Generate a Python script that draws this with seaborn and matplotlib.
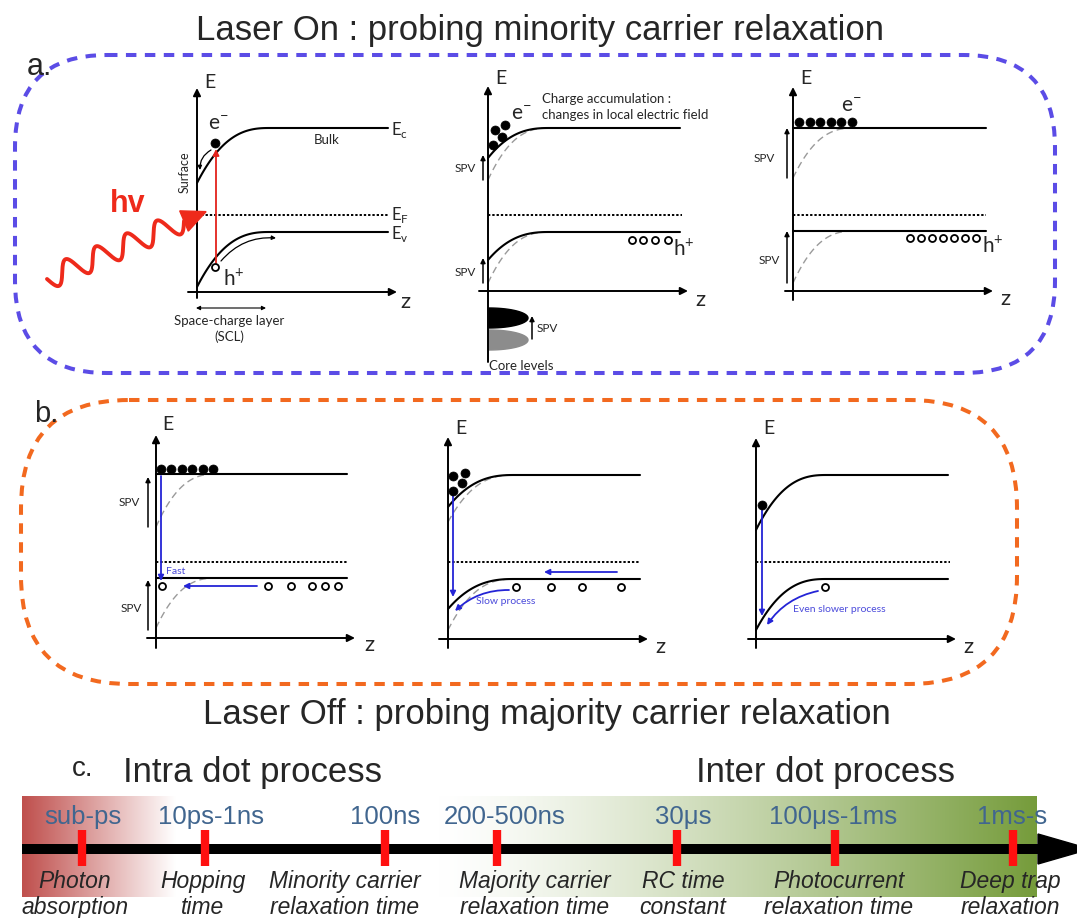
import numpy as np
import matplotlib
matplotlib.use("Agg")
import matplotlib.pyplot as plt
from matplotlib.patches import FancyBboxPatch, Polygon
import seaborn as sns

# ---- timeline content -------------------------------------------------------
time_scales = ["sub-ps", "10ps-1ns", "100ns", "200-500ns", "30μs", "100μs-1ms", "1ms-s"]
processes = [
    ("Photon", "absorption"),
    ("Hopping", "time"),
    ("Minority carrier", "relaxation time"),
    ("Majority carrier", "relaxation time"),
    ("RC time", "constant"),
    ("Photocurrent", "relaxation time"),
    ("Deep trap", "relaxation"),
]
marker_x = [82, 205, 385, 497, 677, 835, 1013]
scale_x = [83, 211, 385, 505, 683, 833, 1012]
process_x = [75, 203, 345, 535, 683, 839, 1010]

titles = ["Laser On : probing minority carrier relaxation",
          "Laser Off : probing majority carrier relaxation"]
groups = ["Intra dot process", "Inter dot process"]

# ---- styling ----------------------------------------------------------------
sns.set_theme(style="white")
plt.rcParams["font.family"] = ["Liberation Sans", "DejaVu Sans"]
GS = ["Lato", "DejaVu Sans"]
BLUE_BOX = "#5B4CE6"
ORANGE_BOX = "#F2691F"
ARROW_BLUE = "#2424D6"
TEXT_BLUE = "#4B4BDB"
GREY = "#9A9A9A"

fig = plt.figure(figsize=(10.77, 9.18), dpi=100)
ax = fig.add_axes([0, 0, 1, 1])
ax.set_xlim(0, 1077)
ax.set_ylim(918, 0)
ax.axis("off")


def arrow(x0, y0, x1, y1, color="black", lw=1.3, ms=10, rad=0.0, style="-|>", z=4):
    ax.annotate("", xy=(x1, y1), xytext=(x0, y0),
                arrowprops=dict(arrowstyle=style, color=color, lw=lw, mutation_scale=ms,
                                shrinkA=0, shrinkB=0,
                                connectionstyle=f"arc3,rad={rad}"), zorder=z)


def band(x0, y_surf, y_bulk, length, x_end=None, color="black", lw=1.5, dashed=False):
    t = np.linspace(0, 1, 80)
    xs = x0 + length * t
    ys = y_bulk + (y_surf - y_bulk) * (1 - t) ** 2.6
    if x_end is not None:
        xs = np.append(xs, x_end)
        ys = np.append(ys, y_bulk)
    if dashed:
        ax.plot(xs, ys, color=GREY, lw=1.0, ls=(0, (5, 3)), zorder=2)
    else:
        sns.lineplot(x=xs, y=ys, sort=False, estimator=None, color=color, lw=lw, ax=ax, zorder=3)


def flat(x0, x1, y, dotted=False):
    if dotted:
        ax.plot([x0, x1], [y, y], color="black", lw=1.4, ls=(0, (1.2, 1.0)), zorder=3)
    else:
        sns.lineplot(x=[x0, x1], y=[y, y], color="black", lw=1.5, ax=ax, zorder=3)


def axes_frame(x0, ytop, ybot, y0, xl, xr, elab, zlab):
    arrow(x0, ybot, x0, ytop, lw=1.4, ms=11)
    arrow(xl, y0, xr, y0, lw=1.4, ms=11)
    ax.text(elab[0], elab[1], "E", fontsize=14, ha="left", va="center", family=GS)
    ax.text(zlab[0], zlab[1], "z", fontsize=16, ha="center", va="center", family=GS)


def electrons(xs, ys, d=9):
    sns.scatterplot(x=xs, y=ys, s=(d * 0.72) ** 2, color="black", edgecolor="black",
                    linewidth=0.5, ax=ax, zorder=6, legend=False)


def holes(xs, ys, d=8):
    sns.scatterplot(x=xs, y=ys, s=(d * 0.72) ** 2, color="white", edgecolor="black",
                    linewidth=1.3, ax=ax, zorder=6, legend=False)


def spv(x, y_from, y_to, tx, ty, size=8.5):
    arrow(x, y_from, x, y_to, lw=1.1, ms=7)
    ax.text(tx, ty, "SPV", fontsize=size, ha="right", va="center", family=GS)


# ---- dashed frames ----------------------------------------------------------
ax.add_patch(FancyBboxPatch((15, 55), 1040, 318, boxstyle="round,pad=0,rounding_size=92",
                            fill=False, ec=BLUE_BOX, lw=2.9, ls=(0, (2.6, 2.1)), zorder=1))
ax.add_patch(FancyBboxPatch((21, 400), 996, 284, boxstyle="round,pad=0,rounding_size=108",
                            fill=False, ec=ORANGE_BOX, lw=2.9, ls=(0, (2.6, 2.1)), zorder=1))

ax.text(540, 40, titles[0], fontsize=25, ha="center", va="baseline")
ax.text(547, 724, titles[1], fontsize=25, ha="center", va="baseline")
ax.text(27, 75, "a.", fontsize=22, ha="left", va="baseline")
ax.text(34, 422, "b.", fontsize=21, ha="left", va="baseline")

# ---- panel a1: illumination of the band-bent surface ------------------------
axes_frame(197, 88, 298, 292, 188, 397, (204, 82), (405, 302))
band(197, 183, 128, 73, 388)
band(197, 287, 232, 73, 388)
flat(197, 388, 215, dotted=True)
for lab, yy in (("c", 130), ("F", 215), ("v", 234)):
    ax.text(391, yy, r"E$_\mathregular{%s}$" % lab, fontsize=12, ha="left", va="center", family=GS)
ax.text(327, 140, "Bulk", fontsize=9.5, ha="center", va="center", family=GS)
ax.text(185, 172, "Surface", fontsize=9, rotation=90, ha="center", va="center", family=GS)
arrow(216, 263, 216, 149, color="#E3221B", lw=1.3, ms=9)
electrons([215], [143], d=9)
holes([215], [267], d=7)
ax.text(208, 124, r"e$^\mathregular{-}$", fontsize=15, ha="left", va="center", family=GS)
ax.text(223, 279, r"h$^\mathregular{+}$", fontsize=15, ha="left", va="center", family=GS)
arrow(211, 150, 200, 170, lw=0.9, ms=6, rad=0.3)
arrow(221, 261, 276, 238, lw=0.9, ms=6, rad=-0.25)
arrow(196, 308, 266, 308, lw=0.8, ms=6, style="<|-|>")
ax.text(229, 321, "Space-charge layer", fontsize=9.5, ha="center", va="center", family=GS)
ax.text(229, 337, "(SCL)", fontsize=9.5, ha="center", va="center", family=GS)

# photon: wavy line ending in a triangular head
p0, p1 = np.array([47.0, 279.0]), np.array([184.0, 221.0])
d = p1 - p0
length = np.hypot(*d)
u = d / length
nrm = np.array([u[1], -u[0]])
s = np.linspace(0, length, 500)
wave = 11 * np.sin(2 * np.pi * 4.5 * s / length + np.pi)
pts = p0 + np.outer(s, u) + np.outer(wave, nrm)
ax.plot(pts[:, 0], pts[:, 1], color="#EE2A1B", lw=2.8, solid_capstyle="round", zorder=4)
tip = p1 + 24 * u
ax.add_patch(Polygon([p1 + 11 * nrm, p1 - 11 * nrm, tip], closed=True, color="#EE2A1B", zorder=4))
ax.text(128, 204, "hv", fontsize=22, color="#EE2A1B", fontweight="bold", ha="center", va="center")

# ---- panel a2: charge accumulation ------------------------------------------
axes_frame(488, 86, 362, 291, 479, 688, (495, 78), (700, 300))
band(488, 158, 128, 62, 680)
band(488, 180, 128, 62, dashed=True)
band(488, 260, 232, 62, 680)
band(488, 283, 232, 62, dashed=True)
flat(488, 682, 215, dotted=True)
electrons([495, 505, 502, 493], [130, 125, 137, 145], d=9)
holes([632, 643, 655, 668], [240] * 4, d=7)
ax.text(511, 114, r"e$^\mathregular{-}$", fontsize=15, ha="left", va="center", family=GS)
ax.text(673, 249, r"h$^\mathregular{+}$", fontsize=15, ha="left", va="center", family=GS)
ax.text(542, 99, "Charge accumulation :", fontsize=9.5, ha="left", va="center", family=GS)
ax.text(542, 115, "changes in local electric field", fontsize=9.5, ha="left", va="center", family=GS)
spv(483, 180, 155, 476, 168)
spv(483, 283, 258, 476, 272)
th = np.linspace(-np.pi / 2, np.pi / 2, 60)
ax.add_patch(Polygon(np.c_[489 + 39 * np.cos(th), 318 + 10 * np.sin(th)], closed=True,
                     color="black", zorder=3))
ax.add_patch(Polygon(np.c_[489 + 39 * np.cos(th), 340 + 10 * np.sin(th)], closed=True,
                     color="#8C8C8C", zorder=3))
arrow(532, 339, 532, 316, lw=1.1, ms=7)
ax.text(537, 328, "SPV", fontsize=8.5, ha="left", va="center", family=GS)
ax.text(489, 366, "Core levels", fontsize=9.5, ha="left", va="center", family=GS)

# ---- panel a3: flat bands ---------------------------------------------------
axes_frame(793, 87, 300, 291, 785, 993, (800, 78), (1005, 299))
flat(793, 986, 128)
band(793, 178, 128, 62, dashed=True)
flat(793, 986, 231)
band(793, 283, 231, 62, dashed=True)
flat(793, 986, 215, dotted=True)
electrons(list(np.linspace(799, 852, 6)), [122] * 6, d=9)
holes(list(np.linspace(910, 976, 7)), [238] * 7, d=7)
ax.text(841, 106, r"e$^\mathregular{-}$", fontsize=15, ha="left", va="center", family=GS)
ax.text(982, 246, r"h$^\mathregular{+}$", fontsize=15, ha="left", va="center", family=GS)
spv(787, 178, 128, 775, 158)
spv(787, 283, 231, 780, 260)

# ---- panel b1: fast recombination -------------------------------------------
axes_frame(156, 435, 648, 638, 147, 355, (162, 425), (369, 645))
flat(156, 347, 474)
band(156, 527, 474, 61, dashed=True)
flat(156, 347, 578)
band(156, 628, 578, 61, dashed=True)
flat(156, 348, 562, dotted=True)
electrons(list(np.linspace(161, 213, 6)), [469] * 6, d=9)
holes([162, 268, 291, 312, 325, 338], [586] * 6, d=7)
arrow(161, 476, 161, 581, color=ARROW_BLUE, lw=1.3, ms=8)
ax.text(166, 572, "Fast", fontsize=7.5, color=TEXT_BLUE, ha="left", va="center", family=GS)
arrow(257, 586, 183, 586, color=ARROW_BLUE, lw=1.3, ms=8)
spv(148, 527, 477, 140, 503)
spv(148, 630, 580, 142, 608)

# ---- panel b2: slow process -------------------------------------------------
axes_frame(448, 437, 648, 639, 439, 648, (455, 428), (660, 647))
band(448, 507, 475, 67, 640)
band(448, 522, 475, 67, dashed=True)
band(448, 609, 579, 67, 640)
band(448, 630, 579, 67, dashed=True)
flat(448, 640, 562, dotted=True)
electrons([453, 465, 462, 453], [476, 473, 483, 491], d=9)
holes([516, 551, 582, 621], [587] * 4, d=7)
arrow(453, 495, 453, 597, color=ARROW_BLUE, lw=1.3, ms=8)
arrow(617, 572, 544, 572, color=ARROW_BLUE, lw=1.3, ms=8)
arrow(509, 590, 455, 611, color=ARROW_BLUE, lw=1.3, ms=8, rad=0.2)
ax.text(476, 602, "Slow process", fontsize=7.5, color=TEXT_BLUE, ha="left", va="center", family=GS)

# ---- panel b3: even slower process ------------------------------------------
axes_frame(756, 438, 648, 639, 748, 956, (763, 428), (968, 647))
band(756, 530, 475, 71, 948)
band(756, 630, 579, 71, 948)
flat(756, 950, 562, dotted=True)
electrons([762], [505], d=9)
holes([825], [587], d=7)
arrow(762, 510, 762, 616, color=ARROW_BLUE, lw=1.3, ms=8)
arrow(818, 591, 767, 625, color=ARROW_BLUE, lw=1.3, ms=8, rad=0.2)
ax.text(793, 610, "Even slower process", fontsize=7.5, color=TEXT_BLUE, ha="left", va="center",
        family=GS)

# ---- panel c: time scales ---------------------------------------------------
x_left, x_right = 22, 1037
cols = np.linspace(x_left, x_right, 1200)
white = np.array([1.0, 1.0, 1.0])
red = np.array([0.75, 0.31, 0.30])
green = np.array([0.46, 0.61, 0.23])
w_red = np.clip((175 - cols) / (175 - x_left), 0, 1)[:, None]
w_green = (np.clip((cols - 440) / (x_right - 440), 0, 1) ** 1.3)[:, None]
grad = white * (1 - w_red - w_green) + red * w_red + green * w_green
ax.imshow(grad[None, :, :], extent=(x_left, x_right, 897, 796), aspect="auto",
          interpolation="bilinear", zorder=0)

ax.plot([x_left, 1040], [849, 849], color="black", lw=7.2, solid_capstyle="butt", zorder=2)
ax.add_patch(Polygon([(1038, 834), (1038, 864), (1090, 849)], closed=True, color="black",
                     zorder=2, clip_on=True))
ax.vlines(marker_x, 830, 866, color="#FF1010", lw=6.0, zorder=3)

for lab, xx in zip(time_scales, scale_x):
    ax.text(xx, 824, lab, fontsize=18.5, color="#41668F", ha="center", va="baseline")
for (l1, l2), xx in zip(processes, process_x):
    ax.text(xx, 888, l1, fontsize=16.5, style="italic", ha="center", va="baseline")
    ax.text(xx, 914, l2, fontsize=16.5, style="italic", ha="center", va="baseline")

ax.text(72, 776, "c.", fontsize=20, ha="left", va="baseline")
ax.text(123, 782, groups[0], fontsize=25, ha="left", va="baseline")
ax.text(825, 782, groups[1], fontsize=25, ha="center", va="baseline")

fig.savefig("out.png", dpi=100, facecolor="white")
